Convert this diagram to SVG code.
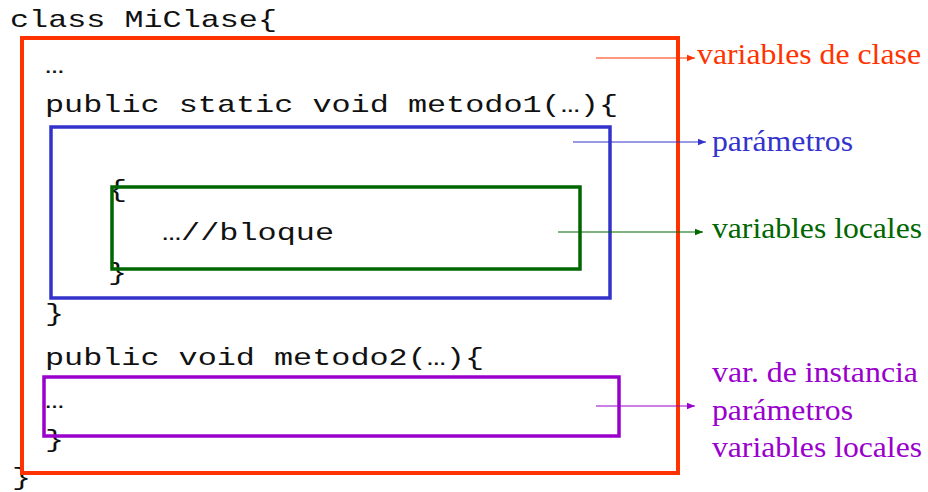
<svg xmlns="http://www.w3.org/2000/svg" width="928" height="492" viewBox="0 0 928 492">
  <style>
    .code { font-family: "Liberation Mono", "Courier New", monospace; font-size: 24px; fill: #111; }
    .lbl { font-family: "Liberation Serif", "Times New Roman", serif; font-size: 30px; }
    .box { fill: none; }
    .arr { stroke-width: 1.2; fill: none; }
  </style>
  <defs>
    <marker id="ahRed" viewBox="0 0 10 10" refX="10" refY="5" markerWidth="8" markerHeight="8" markerUnits="userSpaceOnUse" orient="auto"><path d="M0,1 L10,5 L0,9 Z" fill="#ff3300"/></marker>
    <marker id="ahBlue" viewBox="0 0 10 10" refX="10" refY="5" markerWidth="8" markerHeight="8" markerUnits="userSpaceOnUse" orient="auto"><path d="M0,1 L10,5 L0,9 Z" fill="#3333cc"/></marker>
    <marker id="ahGreen" viewBox="0 0 10 10" refX="10" refY="5" markerWidth="8" markerHeight="8" markerUnits="userSpaceOnUse" orient="auto"><path d="M0,1 L10,5 L0,9 Z" fill="#006600"/></marker>
    <marker id="ahPurple" viewBox="0 0 10 10" refX="10" refY="5" markerWidth="8" markerHeight="8" markerUnits="userSpaceOnUse" orient="auto"><path d="M0,1 L10,5 L0,9 Z" fill="#9900cc"/></marker>
  </defs>

  <!-- source code listing -->
  <g id="code">
    <text class="code" x="10" y="27" textLength="267" lengthAdjust="spacingAndGlyphs">class MiClase{</text>
    <text class="code" x="45" y="73" textLength="19" lengthAdjust="spacingAndGlyphs">…</text>
    <text class="code" x="45" y="112" textLength="573" lengthAdjust="spacingAndGlyphs">public static void metodo1(…){</text>
    <text class="code" x="108" y="197" textLength="19" lengthAdjust="spacingAndGlyphs">{</text>
    <text class="code" x="162" y="240" textLength="172" lengthAdjust="spacingAndGlyphs">…//bloque</text>
    <text class="code" x="108" y="280" textLength="19" lengthAdjust="spacingAndGlyphs">}</text>
    <text class="code" x="45" y="321" textLength="19" lengthAdjust="spacingAndGlyphs">}</text>
    <text class="code" x="45" y="365" textLength="439" lengthAdjust="spacingAndGlyphs">public void metodo2(…){</text>
    <text class="code" x="45" y="408" textLength="19" lengthAdjust="spacingAndGlyphs">…</text>
    <text class="code" x="45" y="447" textLength="19" lengthAdjust="spacingAndGlyphs">}</text>
    <text class="code" x="12" y="485" textLength="19" lengthAdjust="spacingAndGlyphs">}</text>
  </g>

  <!-- scope boxes -->
  <g id="scope-class"><rect class="box" x="22" y="38" width="656" height="435" stroke="#ff3300" stroke-width="4"/></g>
  <g id="scope-metodo1"><rect class="box" x="51" y="127" width="559" height="171" stroke="#3333cc" stroke-width="3.5"/></g>
  <g id="scope-bloque"><rect class="box" x="112" y="187" width="468" height="82" stroke="#006600" stroke-width="3.5"/></g>
  <g id="scope-metodo2"><rect class="box" x="44" y="377" width="575" height="59" stroke="#9900cc" stroke-width="3.5"/></g>

  <!-- connectors -->
  <g id="connectors">
    <line class="arr" x1="596" y1="58" x2="695" y2="58" stroke="#ff3300" marker-end="url(#ahRed)"/>
    <line class="arr" x1="573" y1="142" x2="706" y2="142" stroke="#3333cc" marker-end="url(#ahBlue)"/>
    <line class="arr" x1="558" y1="232" x2="703" y2="232" stroke="#006600" marker-end="url(#ahGreen)"/>
    <line class="arr" x1="596" y1="406" x2="695" y2="406" stroke="#9900cc" marker-end="url(#ahPurple)"/>
  </g>

  <!-- labels -->
  <g id="label-class"><text class="lbl" x="697" y="64" fill="#ff3300" textLength="224" lengthAdjust="spacingAndGlyphs">variables de clase</text></g>
  <g id="label-params"><text class="lbl" x="712" y="151" fill="#3333cc" textLength="141" lengthAdjust="spacingAndGlyphs">parámetros</text></g>
  <g id="label-locals"><text class="lbl" x="712" y="238" fill="#006600" textLength="210" lengthAdjust="spacingAndGlyphs">variables locales</text></g>
  <g id="label-instance">
    <text class="lbl" x="712" y="382" fill="#9900cc" textLength="206" lengthAdjust="spacingAndGlyphs">var. de instancia</text>
    <text class="lbl" x="712" y="420" fill="#9900cc" textLength="141" lengthAdjust="spacingAndGlyphs">parámetros</text>
    <text class="lbl" x="712" y="457" fill="#9900cc" textLength="210" lengthAdjust="spacingAndGlyphs">variables locales</text>
  </g>
</svg>
